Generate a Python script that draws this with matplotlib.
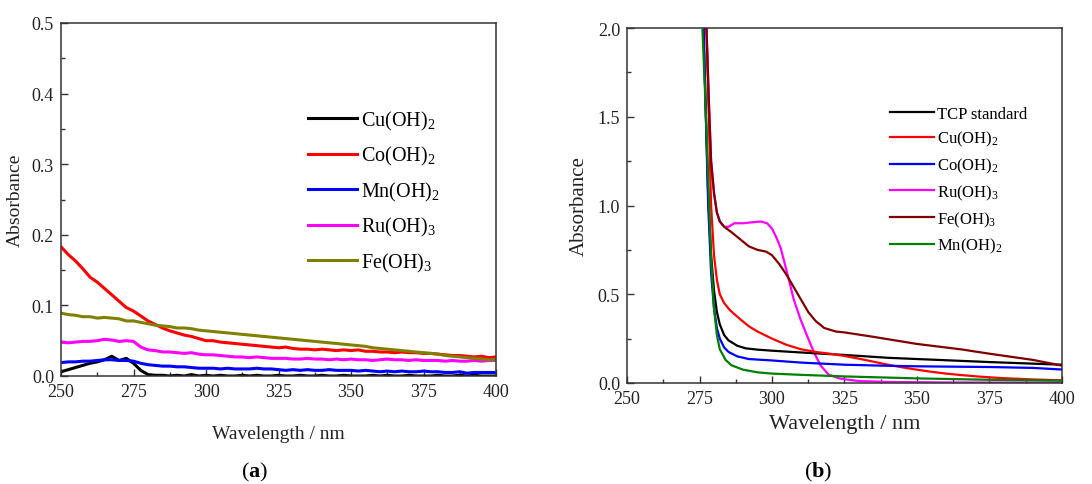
#!/usr/bin/env python3
"""UV-vis absorbance spectra: (a) hydroxide blanks, (b) TCP standard with hydroxides."""
import numpy as np
import matplotlib
matplotlib.use("Agg")
import matplotlib.pyplot as plt
from matplotlib.ticker import MultipleLocator

plt.rcParams["font.family"] = ["Liberation Serif", "DejaVu Serif"]
plt.rcParams["mathtext.fontset"] = "custom"
plt.rcParams["mathtext.rm"] = "Liberation Serif"
plt.rcParams["mathtext.it"] = "Liberation Serif:italic"
plt.rcParams["mathtext.bf"] = "Liberation Serif:bold"

# ---- panel (a): 250-400 nm, 2.5 nm step ----
wl_a = np.linspace(250, 400, 61)

cu_a = [0.006, 0.009, 0.012, 0.015, 0.018, 0.020, 0.023, 0.028, 0.022, 0.025,
        0.018, 0.008, 0.002, 0.001, 0.001, 0.000, 0.001, 0.000, 0.002, 0.000,
        0.001, 0.000, 0.001, 0.000, 0.000, 0.001, 0.000, 0.001, 0.000, 0.000,
        0.001, 0.000, 0.000, 0.001, 0.000, 0.000, 0.001, 0.000, 0.000, 0.001,
        0.000, 0.000, 0.000, 0.001, 0.000, 0.001, 0.000, 0.000, 0.001, 0.000,
        0.000, 0.000, 0.001, 0.000, 0.000, 0.001, 0.000, 0.001, 0.000, 0.000,
        0.000]
co_a = [0.183, 0.172, 0.163, 0.152, 0.140, 0.133, 0.124, 0.115, 0.106, 0.097,
        0.092, 0.085, 0.078, 0.073, 0.068, 0.064, 0.061, 0.058, 0.056, 0.053,
        0.050, 0.050, 0.048, 0.047, 0.046, 0.045, 0.044, 0.043, 0.042, 0.041,
        0.040, 0.041, 0.039, 0.038, 0.038, 0.037, 0.038, 0.037, 0.036, 0.037,
        0.036, 0.037, 0.035, 0.035, 0.034, 0.034, 0.033, 0.034, 0.033, 0.033,
        0.032, 0.032, 0.031, 0.030, 0.029, 0.029, 0.028, 0.027, 0.028, 0.026,
        0.027]
mn_a = [0.019, 0.020, 0.020, 0.021, 0.021, 0.022, 0.023, 0.023, 0.022, 0.022,
        0.021, 0.018, 0.016, 0.015, 0.014, 0.014, 0.013, 0.013, 0.012, 0.011,
        0.011, 0.011, 0.010, 0.011, 0.010, 0.010, 0.010, 0.011, 0.010, 0.010,
        0.009, 0.008, 0.009, 0.008, 0.009, 0.008, 0.008, 0.009, 0.008, 0.008,
        0.008, 0.007, 0.008, 0.007, 0.006, 0.007, 0.006, 0.007, 0.006, 0.006,
        0.007, 0.006, 0.006, 0.005, 0.005, 0.006, 0.004, 0.005, 0.005, 0.005,
        0.005]
ru_a = [0.048, 0.047, 0.048, 0.049, 0.049, 0.050, 0.052, 0.051, 0.049, 0.050,
        0.049, 0.041, 0.037, 0.036, 0.034, 0.034, 0.033, 0.032, 0.033, 0.031,
        0.030, 0.030, 0.029, 0.028, 0.027, 0.027, 0.026, 0.027, 0.026, 0.025,
        0.025, 0.025, 0.024, 0.024, 0.025, 0.024, 0.024, 0.023, 0.024, 0.023,
        0.024, 0.023, 0.023, 0.022, 0.023, 0.024, 0.023, 0.023, 0.022, 0.023,
        0.022, 0.022, 0.022, 0.021, 0.022, 0.021, 0.021, 0.022, 0.021, 0.022,
        0.022]
fe_a = [0.089, 0.087, 0.086, 0.084, 0.084, 0.082, 0.083, 0.082, 0.081, 0.078,
        0.078, 0.076, 0.074, 0.072, 0.071, 0.070, 0.068, 0.068, 0.067, 0.065,
        0.064, 0.063, 0.062, 0.061, 0.060, 0.059, 0.058, 0.057, 0.056, 0.055,
        0.054, 0.053, 0.052, 0.051, 0.050, 0.049, 0.048, 0.047, 0.046, 0.045,
        0.044, 0.043, 0.042, 0.040, 0.039, 0.038, 0.037, 0.036, 0.035, 0.034,
        0.033, 0.032, 0.031, 0.029, 0.028, 0.027, 0.026, 0.025, 0.024, 0.023,
        0.023]

SERIES_A = [
    ("Cu(OH)$_\\mathrm{2}$", cu_a, "black"),
    ("Co(OH)$_\\mathrm{2}$", co_a, "#ff0000"),
    ("Mn(OH)$_\\mathrm{2}$", mn_a, "#0000ff"),
    ("Ru(OH)$_\\mathrm{3}$", ru_a, "#ff00ff"),
    ("Fe(OH)$_\\mathrm{3}$", fe_a, "#808000"),
]

# ---- panel (b): irregular sampling ----
tcp_x = [276.4, 277.2, 278, 279, 280, 281, 282, 283.5, 285, 288, 291, 295, 300,
         310, 325, 340, 350, 375, 400]
tcp_y = [2.0, 1.5, 1.05, 0.72, 0.52, 0.40, 0.33, 0.27, 0.24, 0.21, 0.195, 0.188,
         0.182, 0.172, 0.158, 0.142, 0.135, 0.118, 0.103]

cu_x = [277.4, 278.2, 279, 280, 281, 282, 283.5, 285.5, 289, 292, 295, 300, 305,
        310, 315, 320, 325, 330, 335, 340, 345, 350, 355, 360, 365, 370, 375,
        380, 390, 400]
cu_y = [2.0, 1.5, 1.0, 0.72, 0.58, 0.50, 0.45, 0.41, 0.36, 0.32, 0.29, 0.25,
        0.215, 0.19, 0.175, 0.165, 0.152, 0.137, 0.12, 0.103, 0.088, 0.075,
        0.063, 0.053, 0.045, 0.038, 0.032, 0.027, 0.02, 0.015]

co_x = [276.4, 277.2, 278, 279, 280, 281, 282, 283.5, 285, 288, 292, 300, 310,
        325, 340, 350, 375, 390, 400]
co_y = [2.0, 1.5, 1.0, 0.62, 0.42, 0.31, 0.25, 0.20, 0.175, 0.15, 0.135, 0.127,
        0.115, 0.103, 0.097, 0.094, 0.09, 0.085, 0.076]

ru_x = [277.4, 278.2, 279, 280, 281, 282, 283.5, 285, 287, 290, 293, 296, 298.3,
        300, 301.5, 303, 304.6, 306, 307.5, 309.8, 312, 314.4, 316.7, 319.5,
        323.6, 330, 340, 360, 400]
ru_y = [2.0, 1.6, 1.25, 1.07, 0.96, 0.91, 0.88, 0.88, 0.90, 0.90, 0.905, 0.91,
        0.90, 0.87, 0.82, 0.76, 0.66, 0.57, 0.47, 0.36, 0.27, 0.175, 0.10,
        0.047, 0.024, 0.011, 0.006, 0.003, 0.002]

fe_x = [277.4, 278.2, 279, 280, 281, 282, 283.5, 286, 289, 292, 295, 298, 300,
        302.5, 305, 307.5, 310, 312.5, 315, 318, 322, 325, 335, 350, 365, 375,
        390, 400]
fe_y = [2.0, 1.6, 1.25, 1.07, 0.96, 0.91, 0.88, 0.85, 0.81, 0.77, 0.75, 0.74,
        0.72, 0.67, 0.61, 0.54, 0.47, 0.40, 0.35, 0.31, 0.29, 0.285, 0.26, 0.22,
        0.19, 0.165, 0.13, 0.098]

mn_x = [276.0, 277, 278, 279, 280, 281, 282, 284, 286, 290, 295, 300, 310, 325,
        350, 375, 400]
mn_y = [2.0, 1.6, 1.15, 0.7, 0.42, 0.27, 0.19, 0.13, 0.10, 0.075, 0.060, 0.053,
        0.046, 0.037, 0.026, 0.018, 0.013]

SERIES_B = [
    ("TCP standard", tcp_x, tcp_y, "black", 3),
    ("Cu(OH)$_\\mathrm{2}$", cu_x, cu_y, "#ff0000", 3),
    ("Co(OH)$_\\mathrm{2}$", co_x, co_y, "#0000ff", 3),
    ("Ru(OH)$_\\mathrm{3}$", ru_x, ru_y, "#ff00ff", 2),
    ("Fe(OH)$_\\mathrm{3}$", fe_x, fe_y, "#800000", 3),
    ("Mn(OH)$_\\mathrm{2}$", mn_x, mn_y, "#008000", 3),
]

SPINE = "#333333"
TXT = "#222222"


def style_axes(ax, ymax, ymajor, yminor, tick_fs):
    ax.set_xlim(250, 400)
    ax.set_ylim(0, ymax)
    ax.xaxis.set_major_locator(MultipleLocator(25))
    ax.xaxis.set_minor_locator(MultipleLocator(12.5))
    ax.yaxis.set_major_locator(MultipleLocator(ymajor))
    ax.yaxis.set_minor_locator(MultipleLocator(yminor))
    ax.yaxis.set_major_formatter(matplotlib.ticker.FormatStrFormatter("%.1f"))
    ax.tick_params(which="both", direction="in", top=False, right=False,
                   color=SPINE, width=1.0, labelcolor=TXT, labelsize=tick_fs)
    ax.tick_params(which="major", length=5, pad=5)
    ax.tick_params(which="minor", length=3)
    for sp in ax.spines.values():
        sp.set_color(SPINE)
        sp.set_linewidth(1.1)


fig = plt.figure(figsize=(10.92, 4.85), dpi=100)

# (a)
ax1 = fig.add_axes([61 / 1092, 108 / 485, 435 / 1092, 353 / 485])
for label, y, color in SERIES_A:
    ax1.plot(wl_a, y, color=color, linewidth=2.2, label=label)
style_axes(ax1, 0.5, 0.1, 0.05, 13)
ax1.set_xlabel("Wavelength / nm", fontsize=14, color=TXT, labelpad=18)
ax1.set_ylabel("Absorbance", fontsize=14, color=TXT, labelpad=6)
leg1 = ax1.legend(loc="upper left", bbox_to_anchor=(0.55, 0.78), frameon=False,
                  fontsize=14.5, handlelength=2.4, handletextpad=0.2,
                  labelspacing=0.62, borderaxespad=0)
for h in leg1.get_lines():
    h.set_linewidth(2.2)

# (b)
ax2 = fig.add_axes([627 / 1092, 101 / 485, 435 / 1092, 355 / 485])
for label, x, y, color, z in SERIES_B:
    ax2.plot(x, y, color=color, linewidth=1.6, label=label, zorder=z)
style_axes(ax2, 2.0, 0.5, 0.25, 13)
ax2.set_xlabel("Wavelength / nm", fontsize=16, color=TXT, labelpad=5)
ax2.set_ylabel("Absorbance", fontsize=15, color=TXT, labelpad=6)
leg2 = ax2.legend(loc="upper left", bbox_to_anchor=(0.59, 0.80), frameon=False,
                  fontsize=12, handlelength=2.6, handletextpad=0.2,
                  labelspacing=0.45, borderaxespad=0)

fig.text(255 / 1092, 1 - 472 / 485, "($\\mathbf{a}$)", ha="center", va="center",
         fontsize=16, color="black")
fig.text(818 / 1092, 1 - 472 / 485, "($\\mathbf{b}$)", ha="center", va="center",
         fontsize=16, color="black")

fig.savefig("out.png", dpi=100)
